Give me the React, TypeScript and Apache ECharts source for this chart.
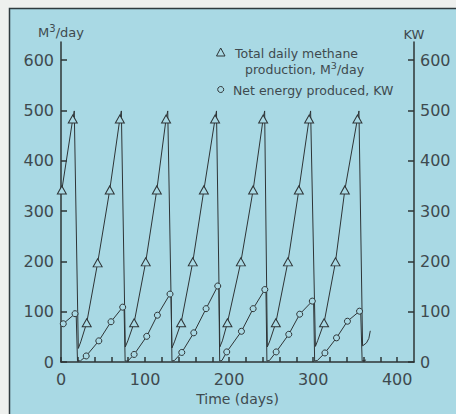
import React, { useEffect, useRef } from "react";
import * as echarts from "echarts";

// Total daily methane production, M3/day  (day, value, marker 1 = triangle shown)
const methaneDays = [
  1, 14, 15.8, 20.6, 23.5,
  30.6, 43.6, 58, 70, 71.8, 76.5, 79.5,
  87, 100.8, 114, 125, 127, 132, 135,
  142.9, 156.8, 170, 183.3, 185, 189, 192,
  198, 214, 228.6, 240.5, 242.3, 245.5, 248.5,
  255.6, 270, 283, 295.2, 297, 302.7, 305.5,
  313, 326.6, 337.7, 352.7, 354.5, 358.8, 363.5, 366.3, 368,
];
const methaneValues = [
  342, 483, 499, 27, 40,
  78, 197, 342, 483, 499, 30, 42,
  78, 199, 342, 483, 499, 28, 40,
  78, 199, 342, 483, 499, 30, 42,
  78, 199, 342, 483, 499, 30, 42,
  78, 199, 342, 483, 499, 31, 43,
  78, 199, 342, 483, 499, 32, 38, 47, 62,
];
const methaneMarked = [
  1, 1, 0, 0, 0,
  1, 1, 1, 1, 0, 0, 0,
  1, 1, 1, 1, 0, 0, 0,
  1, 1, 1, 1, 0, 0, 0,
  1, 1, 1, 1, 0, 0, 0,
  1, 1, 1, 1, 0, 0, 0,
  1, 1, 1, 1, 0, 0, 0, 0, 0,
];

// Net energy produced, KW  (day, value, marker 1 = circle shown)
const energyDays = [
  2.7, 16.7, 18, 19.6, 23,
  30, 45, 59.5, 73.4, 75, 76.3, 79.5,
  87, 102, 114.7, 129.7, 131, 132, 135,
  143.7, 158, 172.6, 186.5, 187.8, 188.8, 191.5,
  197.2, 214.7, 228.6, 242.5, 243.8, 245, 248,
  256, 271, 284, 299, 300.5, 301.8, 305,
  314, 327.8, 340.8, 355.2, 356.5, 358.3, 363,
];
const energyValues = [
  76, 96, 98, 3, 2,
  12, 42, 80, 109, 112, 2, 2,
  15, 51, 93, 135, 138, 2, 3,
  19, 58, 106, 151, 154, 2, 3,
  20, 61, 106, 144, 147, 2, 3,
  20, 55, 95, 121, 124, 2, 3,
  18, 48, 81, 101, 104, 2, 4,
];
const energyMarked = [
  1, 1, 0, 0, 0,
  1, 1, 1, 1, 0, 0, 0,
  1, 1, 1, 1, 0, 0, 0,
  1, 1, 1, 1, 0, 0, 0,
  1, 1, 1, 1, 0, 0, 0,
  1, 1, 1, 1, 0, 0, 0,
  1, 1, 1, 1, 0, 0, 0,
];

const xTickValues = [0, 20, 40, 60, 80, 100, 120, 140, 160, 180, 200, 220, 240, 260, 280, 300, 320, 340, 360, 380, 400];
const xLabelValues = [0, 100, 200, 300, 400];
const yTickValues = [0, 100, 200, 300, 400, 500, 600];

const BG = "#a9d9e4";
const INK = "#2e3436";
const TXT = "#3e4a4f";
const FONT = "DejaVu Sans";

export default function App() {
  const ref = useRef<HTMLDivElement>(null);
  useEffect(() => {
    if (!ref.current) return;
    const chart = echarts.init(ref.current, undefined, { renderer: "svg" });

    const methaneData = methaneDays.map((d, i) => ({
      value: [d, methaneValues[i]],
      symbol: methaneMarked[i] ? "triangle" : "none",
    }));
    const energyData = energyDays.map((d, i) => ({
      value: [d, energyValues[i]],
      symbol: energyMarked[i] ? "circle" : "none",
    }));

    const yAxisCommon = {
      type: "value",
      min: 0,
      max: 636,
      splitLine: { show: false },
      axisLine: { show: true, lineStyle: { color: INK, width: 1.5 } },
      axisTick: { show: true, inside: true, length: 6, customValues: yTickValues, lineStyle: { color: INK, width: 1.5 } },
      nameLocation: "end",
      nameGap: 1,
    };

    chart.setOption({
      animation: false,
      backgroundColor: "#eef0ee",
      textStyle: { fontFamily: FONT },
      grid: { left: 61, right: 42, top: 42, bottom: 52 },
      xAxis: {
        type: "value",
        min: 0,
        max: 420,
        splitLine: { show: false },
        axisLine: { show: true, lineStyle: { color: INK, width: 1.5 } },
        axisTick: { show: true, inside: true, length: 5, customValues: xTickValues, lineStyle: { color: INK, width: 1.5 } },
        axisLabel: { customValues: xLabelValues, color: TXT, fontSize: 16, fontFamily: FONT, margin: 9 },
        name: "Time (days)",
        nameLocation: "middle",
        nameGap: 28,
        nameTextStyle: { color: TXT, fontSize: 14, fontFamily: FONT },
      },
      yAxis: [
        {
          ...yAxisCommon,
          position: "left",
          axisLabel: { customValues: yTickValues, color: TXT, fontSize: 16, fontFamily: FONT, margin: 7 },
          name: "M{sup|3}/day",
          nameTextStyle: {
            color: TXT,
            fontSize: 13,
            fontFamily: FONT,
            rich: { sup: { fontSize: 10, color: TXT, fontFamily: FONT, padding: [0, 0, 8, 0] } },
          },
        },
        {
          ...yAxisCommon,
          position: "right",
          axisLabel: { customValues: yTickValues, color: TXT, fontSize: 16, fontFamily: FONT, margin: 6 },
          name: "KW",
          nameTextStyle: { color: TXT, fontSize: 13, fontFamily: FONT },
        },
      ],
      graphic: [
        {
          type: "rect",
          z: -10,
          silent: true,
          shape: { x: 9.5, y: 8.5, width: 470, height: 430 },
          style: { fill: BG, stroke: "#2f3a3e", lineWidth: 1.5 },
        },
        {
          type: "polygon",
          z: 10,
          shape: { points: [[220.7, 48], [216.5, 56], [225, 56]] },
          style: { fill: BG, stroke: INK, lineWidth: 1 },
        },
        {
          type: "circle",
          z: 10,
          shape: { cx: 220.7, cy: 89.5, r: 3 },
          style: { fill: BG, stroke: INK, lineWidth: 1 },
        },
        {
          type: "text",
          z: 10,
          x: 235,
          y: 53,
          style: { text: "Total daily methane", fill: TXT, font: `12.5px ${FONT}`, verticalAlign: "middle" },
        },
        {
          type: "text",
          z: 10,
          x: 245,
          y: 69,
          style: {
            text: "production, M{sup|3}/day",
            fill: TXT,
            font: `12.5px ${FONT}`,
            verticalAlign: "middle",
            rich: { sup: { fontSize: 9.5, fill: TXT, fontFamily: FONT, padding: [0, 0, 7, 0] } },
          },
        },
        {
          type: "text",
          z: 10,
          x: 233,
          y: 90,
          style: { text: "Net energy produced, KW", fill: TXT, font: `12.5px ${FONT}`, verticalAlign: "middle" },
        },
      ],
      series: [
        {
          name: "Total daily methane production, M3/day",
          type: "line",
          xAxisIndex: 0,
          yAxisIndex: 0,
          data: methaneData,
          symbolSize: [9, 8],
          showAllSymbol: true,
          lineStyle: { color: INK, width: 1 },
          itemStyle: { color: BG, borderColor: INK, borderWidth: 1 },
          z: 3,
        },
        {
          name: "Net energy produced, KW",
          type: "line",
          xAxisIndex: 0,
          yAxisIndex: 1,
          data: energyData,
          symbolSize: 6,
          showAllSymbol: true,
          lineStyle: { color: INK, width: 1 },
          itemStyle: { color: BG, borderColor: INK, borderWidth: 1 },
          z: 3,
        },
      ],
    });
    return () => chart.dispose();
  }, []);
  return (
    <div
      ref={ref}
      style={{ position: "absolute", left: 0, top: 0, width: 456, height: 414 }}
    />
  );
}
